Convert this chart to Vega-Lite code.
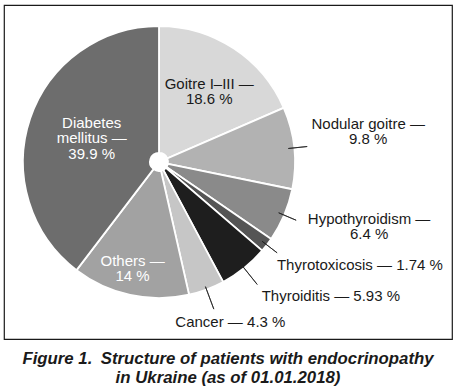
{
  "$schema": "https://vega.github.io/schema/vega-lite/v6.json",
  "width": 448,
  "height": 334,
  "autosize": {"type": "none"},
  "padding": {"left": 4, "top": 5, "right": 4, "bottom": 49},
  "background": "white",
  "view": {"stroke": "#1a1a1a", "strokeWidth": 1.2},
  "config": {
    "view": {"stroke": "#1a1a1a", "strokeWidth": 1.2},
    "font": "Liberation Sans",
    "text": {"font": "Liberation Sans", "fontSize": 15, "lineHeight": 15.5, "lineBreak": "\n", "align": "center", "baseline": "middle"}
  },
  "title": {
    "text": ["Figure 1.\u2002Structure of patients with endocrinopathy", "in Ukraine (as of 01.01.2018)"],
    "orient": "bottom",
    "anchor": "middle",
    "font": "Liberation Sans",
    "fontSize": 16.8,
    "fontWeight": "bold",
    "fontStyle": "italic",
    "color": "#1a1a1a",
    "lineHeight": 19,
    "offset": 12
  },
  "data": {
    "values": [
      {"idx": 1, "cat": "Goitre I–III", "value": 18.6, "label": "Goitre I–III —\n18.6 %"},
      {"idx": 2, "cat": "Nodular goitre", "value": 9.8, "label": "Nodular goitre —\n9.8 %"},
      {"idx": 3, "cat": "Hypothyroidism", "value": 6.4, "label": "Hypothyroidism —\n6.4 %"},
      {"idx": 4, "cat": "Thyrotoxicosis", "value": 1.74, "label": "Thyrotoxicosis — 1.74 %"},
      {"idx": 5, "cat": "Thyroiditis", "value": 5.93, "label": "Thyroiditis — 5.93 %"},
      {"idx": 6, "cat": "Cancer", "value": 4.3, "label": "Cancer — 4.3 %"},
      {"idx": 7, "cat": "Others", "value": 14, "label": "Others —\n14 %"},
      {"idx": 8, "cat": "Diabetes mellitus", "value": 39.9, "label": "Diabetes\nmellitus —\n39.9 %"}
    ]
  },
  "encoding": {
    "theta": {"field": "value", "type": "quantitative", "stack": true},
    "order": {"field": "idx", "type": "quantitative"}
  },
  "layer": [
    {
      "mark": {"type": "arc", "innerRadius": 9, "outerRadius": 136, "stroke": "white", "strokeWidth": 1.8, "xOffset": -69, "yOffset": -10},
      "encoding": {
        "color": {
          "field": "cat", "type": "nominal", "legend": null,
          "scale": {
            "domain": ["Goitre I–III", "Nodular goitre", "Hypothyroidism", "Thyrotoxicosis", "Thyroiditis", "Cancer", "Others", "Diabetes mellitus"],
            "range": ["#d8d8d8", "#b2b2b2", "#8a8a8a", "#555555", "#1e1e1e", "#c6c6c6", "#a2a2a2", "#6d6d6d"]
          }
        }
      }
    },
    {
      "mark": {"type": "arc", "innerRadius": 130, "outerRadius": 149, "padAngle": 3, "fill": "white", "fillOpacity": 0, "stroke": "#222222", "strokeWidth": 0.8, "xOffset": -69, "yOffset": -10},
      "encoding": {
        "strokeOpacity": {"condition": {"test": "indexof(['Nodular goitre','Hypothyroidism','Thyrotoxicosis'], datum.cat) >= 0", "value": 1}, "value": 0}
      }
    },
    {
      "mark": {"type": "arc", "innerRadius": 133, "outerRadius": 157, "padAngle": 3, "fill": "white", "fillOpacity": 0, "stroke": "#222222", "strokeWidth": 0.8, "xOffset": -69, "yOffset": -10},
      "encoding": {
        "strokeOpacity": {"condition": {"test": "indexof(['Thyroiditis','Cancer'], datum.cat) >= 0", "value": 1}, "value": 0}
      }
    },
    {
      "mark": {"type": "text", "radius": 88, "dx": 2, "dy": -4.8, "xOffset": -69, "yOffset": -10, "color": "#1a1a1a"},
      "encoding": {"text": {"condition": {"test": "datum.cat === 'Goitre I–III'", "field": "label"}, "value": ""}}
    },
    {
      "mark": {"type": "text", "radius": 70, "dx": -1, "dy": -17, "xOffset": -69, "yOffset": -10, "color": "white"},
      "encoding": {"text": {"condition": {"test": "datum.cat === 'Diabetes mellitus'", "field": "label"}, "value": ""}}
    },
    {
      "mark": {"type": "text", "radius": 110, "dx": -3, "dy": -8.75, "xOffset": -69, "yOffset": -10, "color": "white"},
      "encoding": {"text": {"condition": {"test": "datum.cat === 'Others'", "field": "label"}, "value": ""}}
    },
    {
      "mark": {"type": "text", "radius": 150, "dx": 60, "dy": -22.75, "xOffset": -69, "yOffset": -10, "color": "#1a1a1a"},
      "encoding": {"text": {"condition": {"test": "datum.cat === 'Nodular goitre'", "field": "label"}, "value": ""}}
    },
    {
      "mark": {"type": "text", "radius": 150, "dx": 72, "dy": -1.75, "xOffset": -69, "yOffset": -10, "color": "#1a1a1a"},
      "encoding": {"text": {"condition": {"test": "datum.cat === 'Hypothyroidism'", "field": "label"}, "value": ""}}
    },
    {
      "mark": {"type": "text", "radius": 150, "dx": 82, "dy": 11.5, "xOffset": -69, "yOffset": -10, "color": "#1a1a1a"},
      "encoding": {"text": {"condition": {"test": "datum.cat === 'Thyrotoxicosis'", "field": "label"}, "value": ""}}
    },
    {
      "mark": {"type": "text", "radius": 150, "dx": 78, "dy": 17, "xOffset": -69, "yOffset": -10, "color": "#1a1a1a"},
      "encoding": {"text": {"condition": {"test": "datum.cat === 'Thyroiditis'", "field": "label"}, "value": ""}}
    },
    {
      "mark": {"type": "text", "radius": 160, "dx": 15.5, "dy": 10.5, "xOffset": -69, "yOffset": -10, "color": "#1a1a1a"},
      "encoding": {"text": {"condition": {"test": "datum.cat === 'Cancer'", "field": "label"}, "value": ""}}
    }
  ]
}
